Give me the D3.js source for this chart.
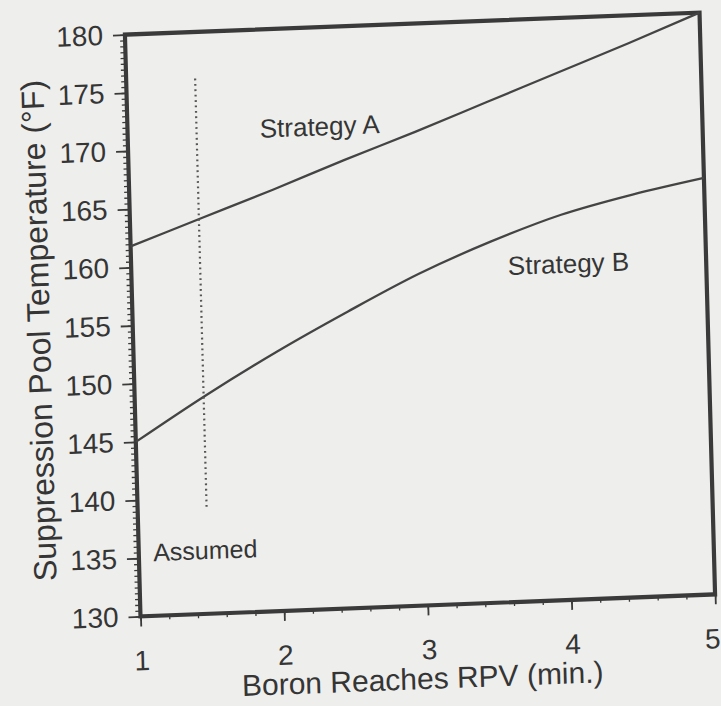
<!DOCTYPE html>
<html>
<head>
<meta charset="utf-8">
<script src="https://cdn.jsdelivr.net/npm/d3@7/dist/d3.min.js"></script>
<style>
  html, body { margin: 0; padding: 0; background: #eeeeec; }
  svg { display: block; }
  text { font-family: "Liberation Sans", Arial, Helvetica, sans-serif; fill: #353535; }
</style>
</head>
<body>
<svg id="chart" width="721" height="706"></svg>
<script>
// ---- data ----
const minutes    = [1, 1.5, 2, 2.5, 3, 3.5, 4, 4.5, 5];
const strategyA  = [161.8, 164.0, 166.2, 168.5, 170.7, 173.0, 175.3, 177.6, 180.0];
const strategyB  = [145.0, 148.8, 152.3, 155.5, 158.5, 161.0, 163.1, 164.6, 165.8];
const xTickVals  = [1, 2, 3, 4, 5];
const yTickVals  = [130, 135, 140, 145, 150, 155, 160, 165, 170, 175, 180];
const assumedX   = 1.48;
const assumedY   = [139, 176];
const seriesNames = ["Strategy A", "Strategy B"];

(function () {
// ---- layout ----
const W = 721, H = 706;
const pL = 132.5, pR = 707.5, pT = 23.5, pB = 605.5;
const cx = 420, cy = 314.5;
const svg = d3.select("#chart");
svg.append("rect").attr("width", W).attr("height", H).attr("fill", "#eeeeec");

// scanned page is slightly skewed: horizontals tilt ~2.2deg, verticals ~1.5deg
const hA = -2.2 * Math.PI / 180, vA = 1.53 * Math.PI / 180;
const m = [Math.cos(hA), Math.sin(hA), Math.sin(vA), Math.cos(vA)];
const g = svg.append("g")
  .attr("transform", `translate(${cx},${cy}) matrix(${m[0]},${m[1]},${m[2]},${m[3]},0,0) translate(${-cx},${-cy})`);

const x = d3.scaleLinear().domain([1, 5]).range([pL, pR]);
const y = d3.scaleLinear().domain([130, 180]).range([pB, pT]);

const ink = "#3a3a3a";

// minor ticks
const xMinor = d3.range(1, 5.0001, 0.2);
const yMinor = d3.range(130, 180.0001, 0.5);

g.append("g").attr("transform", `translate(0,${pB})`)
  .call(d3.axisBottom(x).tickValues(xMinor).tickSize(4).tickFormat(""))
  .call(a => a.select(".domain").remove())
  .call(a => a.selectAll("line").attr("stroke", ink).attr("stroke-width", 1.3));

g.append("g").attr("transform", `translate(${pL},0)`)
  .call(d3.axisLeft(y).tickValues(yMinor).tickSize(5).tickFormat(""))
  .call(a => a.select(".domain").remove())
  .call(a => a.selectAll("line").attr("stroke", ink).attr("stroke-width", 1.3));

// major axes
const xAxis = g.append("g").attr("transform", `translate(0,${pB})`)
  .call(d3.axisBottom(x).tickValues(xTickVals).tickSize(10).tickPadding(24).tickFormat(d3.format("d")));
xAxis.select(".domain").remove();
xAxis.selectAll("line").attr("stroke", ink).attr("stroke-width", 1.8);
xAxis.selectAll("text").attr("font-size", 28).attr("fill", "#353535")
  .attr("font-family", "'Liberation Sans', Arial, sans-serif")
  .attr("dx", d => d === 5 ? -4 : 0);

const yAxis = g.append("g").attr("transform", `translate(${pL},0)`)
  .call(d3.axisLeft(y).tickValues(yTickVals).tickSize(12).tickPadding(10).tickFormat(d3.format("d")));
yAxis.select(".domain").remove();
yAxis.selectAll("line").attr("stroke", ink).attr("stroke-width", 1.8);
yAxis.selectAll("text").attr("font-size", 28).attr("fill", "#353535")
  .attr("font-family", "'Liberation Sans', Arial, sans-serif");

// frame
g.append("rect")
  .attr("x", x(1)).attr("y", y(180))
  .attr("width", x(5) - x(1)).attr("height", y(130) - y(180))
  .attr("fill", "none").attr("stroke", ink).attr("stroke-width", 4.2);

// curves
const line = d3.line().x(d => x(d[0])).y(d => y(d[1])).curve(d3.curveMonotoneX);
[strategyA, strategyB].forEach(vals => {
  g.append("path")
    .datum(minutes.map((mm, i) => [mm, vals[i]]))
    .attr("d", line)
    .attr("fill", "none")
    .attr("stroke", "#444")
    .attr("stroke-width", 2.3);
});

// assumed dotted line
g.append("line")
  .attr("x1", x(assumedX)).attr("x2", x(assumedX))
  .attr("y1", y(assumedY[1])).attr("y2", y(assumedY[0]))
  .attr("stroke", "#555").attr("stroke-width", 2.2)
  .attr("stroke-dasharray", "1.8,3.6");

// annotations
const notes = [
  { text: seriesNames[0], mx: 1.92, t: 170.7, fs: 26 },
  { text: seriesNames[1], mx: 3.62, t: 158.1, fs: 26 },
  { text: "Assumed",      mx: 1.10, t: 134.7, fs: 25 }
];
g.selectAll("text.note").data(notes).join("text")
  .attr("class", "note")
  .attr("x", d => x(d.mx)).attr("y", d => y(d.t))
  .attr("font-size", d => d.fs)
  .text(d => d.text);

// axis titles
g.append("text")
  .attr("x", 413).attr("y", 689)
  .attr("text-anchor", "middle")
  .attr("font-size", 30)
  .text("Boron Reaches RPV (min.)");

g.append("text")
  .attr("transform", "translate(49.5,316) rotate(-90)")
  .attr("text-anchor", "middle")
  .attr("font-size", 32)
  .text("Suppression Pool Temperature (°F)");
})();
</script>
</body>
</html>
